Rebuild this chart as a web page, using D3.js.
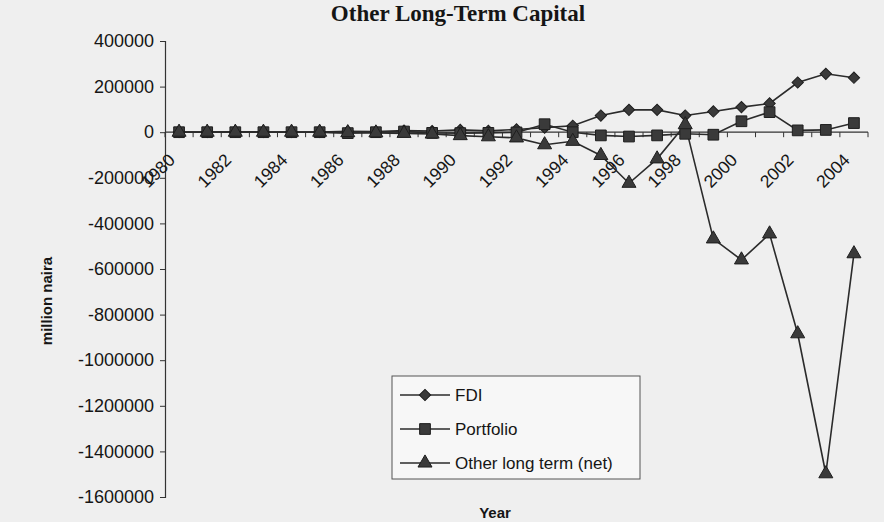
<!DOCTYPE html>
<html>
<head>
<meta charset="utf-8">
<script src="https://cdn.jsdelivr.net/npm/d3@7"></script>
<style>
  body { margin: 0; background: #efefef; }
  svg text { font-family: "Liberation Sans", Arial, sans-serif; fill: #151515; }
</style>
</head>
<body>
<main></main>
<script>
(function(){

  const w = 884,
    h = 522;

  // DATA (million naira)
  const years = d3.range(1980, 2005);
  const yTicks = [400000, 200000, 0, -200000, -400000, -600000, -800000, -1000000, -1200000, -1400000, -1600000];
  const fdi = [1000, 1000, 2000, 1000, 1000, 1000, 4000, 3000, 7000, 5000, 10000, 6000, 12000, 20000, 28000,
    73000, 98000, 98000, 73000, 91000, 110000, 126000, 218000, 256000, 239000];
  const portfolio = [0, 0, 0, 0, 0, 0, -4000, 0, 3000, -3000, -4000, -3000, -1000, 35000, 0,
    -14000, -19000, -14000, -7000, -11000, 48000, 88000, 8000, 10000, 40000];
  const otherLT = [0, 0, 0, 0, 0, 0, -2000, -3000, -5000, -8000, -15000, -20000, -25000, -55000, -40000,
    -102000, -224000, -117000, 33000, -468000, -560000, -446000, -884000, -1498000, -533000];
  const seriesNames = ["FDI", "Portfolio", "Other long term (net)"];

  const series = [
    {name: seriesNames[0], values: fdi, shape: "diamond"},
    {name: seriesNames[1], values: portfolio, shape: "square"},
    {name: seriesNames[2], values: otherLT, shape: "triangle"}
  ];

  const svg = d3.select("main")
    .append("svg")
    .attr("width", w)
    .attr("height", h);

  // TITLE
  svg.append("text")
    .attr("x", 458)
    .attr("y", 21)
    .attr("text-anchor", "middle")
    .style("font-family", "'Liberation Serif', 'Times New Roman', serif")
    .style("font-weight", "bold")
    .style("font-size", "23px")
    .text("Other Long-Term Capital");

  // SCALES
  const x = d3.scaleBand()
    .domain(years)
    .range([165, 868])
    .padding(0);

  const y = d3.scaleLinear()
    .domain([-1600000, 400000])
    .range([497, 41]);

  // Y AXIS
  const yAxis = d3.axisLeft(y)
    .tickValues(yTicks)
    .tickSize(5)
    .tickPadding(6)
    .tickFormat(d => String(d));

  const gy = svg.append("g")
    .attr("transform", "translate(165,0)")
    .call(yAxis);
  gy.select(".domain").attr("stroke", "#333").attr("stroke-width", 1.2);
  gy.selectAll(".tick line").attr("stroke", "#333");
  gy.selectAll(".tick text")
    .style("font-size", "18px")
    .attr("fill", "#151515");

  // X AXIS at zero
  const y0 = y(0);
  const xAxisG = svg.append("g");
  xAxisG.append("line")
    .attr("x1", x.range()[0])
    .attr("x2", x.range()[1])
    .attr("y1", y0)
    .attr("y2", y0)
    .attr("stroke", "#333")
    .attr("stroke-width", 1.2);

  xAxisG.selectAll(".xtick")
    .data(years.concat([2005]))
    .join("line")
    .attr("class", "xtick")
    .attr("x1", d => d === 2005 ? x.range()[1] : x(d))
    .attr("x2", d => d === 2005 ? x.range()[1] : x(d))
    .attr("y1", y0)
    .attr("y2", y0 + 5)
    .attr("stroke", "#333");

  xAxisG.selectAll(".xlabel")
    .data(years.filter(d => d % 2 === 0))
    .join("text")
    .attr("class", "xlabel")
    .attr("text-anchor", "end")
    .attr("transform", d => "translate(" + (x(d) + x.bandwidth() / 2 - 3) + "," + (y0 + 29) + ") rotate(-45)")
    .style("font-size", "17.5px")
    .text(d => d);

  // LINES
  const line = d3.line()
    .x((d, i) => x(years[i]) + x.bandwidth() / 2)
    .y(d => y(d));

  const symbolFor = {
    diamond: d3.symbol(d3.symbolSquare, 64),
    square: d3.symbol(d3.symbolSquare, 115),
    triangle: d3.symbol(d3.symbolTriangle, 85)
  };

  series.forEach(s => {
    svg.append("path")
      .datum(s.values)
      .attr("fill", "none")
      .attr("stroke", "#2b2b2b")
      .attr("stroke-width", 1.6)
      .attr("d", line);
  });

  series.forEach(s => {
    svg.append("g")
      .selectAll("path")
      .data(s.values)
      .join("path")
      .attr("d", symbolFor[s.shape]())
      .attr("transform", (d, i) => "translate(" + (x(years[i]) + x.bandwidth() / 2) + "," + y(d) + ")" +
        (s.shape === "diamond" ? " rotate(45)" : ""))
      .attr("fill", "#3a3a3a")
      .attr("stroke", "#1e1e1e")
      .attr("stroke-width", 1);
  });

  // AXIS TITLES
  svg.append("text")
    .attr("transform", "translate(52,301) rotate(-90)")
    .attr("text-anchor", "middle")
    .style("font-size", "15px")
    .style("font-weight", "bold")
    .text("million naira");

  svg.append("text")
    .attr("x", 495)
    .attr("y", 518)
    .attr("text-anchor", "middle")
    .style("font-size", "15px")
    .style("font-weight", "bold")
    .text("Year");

  // LEGEND
  const legend = svg.append("g").attr("transform", "translate(392,376)");
  legend.append("rect")
    .attr("width", 248)
    .attr("height", 103)
    .attr("fill", "#f7f7f7")
    .attr("stroke", "#555")
    .attr("stroke-width", 1);

  const legendItem = legend.selectAll(".legend-item")
    .data(series)
    .join("g")
    .attr("class", "legend-item")
    .attr("transform", (d, i) => "translate(0," + (19 + i * 34) + ")");

  legendItem.append("line")
    .attr("x1", 8)
    .attr("x2", 58)
    .attr("stroke", "#2b2b2b")
    .attr("stroke-width", 1.6);

  legendItem.append("path")
    .attr("d", d => symbolFor[d.shape]())
    .attr("transform", d => "translate(33,0)" + (d.shape === "diamond" ? " rotate(45)" : ""))
    .attr("fill", "#3a3a3a")
    .attr("stroke", "#1e1e1e");

  legendItem.append("text")
    .attr("x", 63)
    .attr("dy", "0.35em")
    .style("font-size", "17px")
    .text(d => d.name);

})()
</script>
</body>
</html>
